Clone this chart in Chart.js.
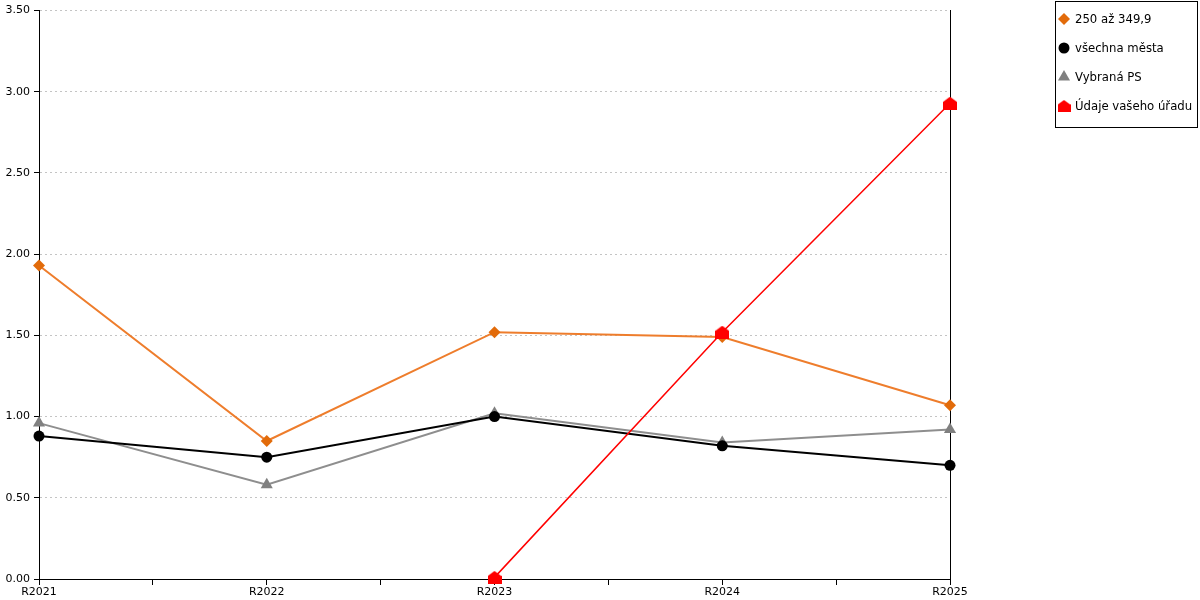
<!DOCTYPE html>
<html>
<head>
<meta charset="utf-8">
<script src="https://cdn.jsdelivr.net/npm/chart.js@4/dist/chart.umd.min.js"></script>
<style>
  html, body { margin: 0; padding: 0; background: #fff; }
  #wrap { width: 1200px; height: 600px; }
</style>
</head>
<body>
<div id="wrap"><canvas id="lineChart" width="1200" height="600"></canvas></div>
<script>
// chart data
const categories = ['R2021', 'R2022', 'R2023', 'R2024', 'R2025'];
const seriesNames = ['250 až 349,9', 'všechna města', 'Vybraná PS', 'Údaje vašeho úřadu'];
const group250 = [1.93, 0.85, 1.52, 1.49, 1.07];
const allCities = [0.88, 0.75, 1.00, 0.82, 0.70];
const selectedPS = [0.96, 0.58, 1.02, 0.84, 0.92];
const yourOffice = [null, null, 0.01, 1.52, 2.93];
const yTicks = [0, 0.5, 1, 1.5, 2, 2.5, 3, 3.5];

// house shaped marker for the office series
const makeHouse = (w, h) => {
    const c = document.createElement('canvas');
    c.width = w; c.height = h;
    const g = c.getContext('2d');
    g.fillStyle = '#ff0000';
    g.beginPath();
    g.moveTo(w / 2, 0);
    g.lineTo(w, h * 0.4);
    g.lineTo(w, h);
    g.lineTo(0, h);
    g.lineTo(0, h * 0.4);
    g.closePath();
    g.fill();
    return c;
};
const houseMarker = makeHouse(14, 13);
const houseLegend = makeHouse(13, 12);

const toPoints = values => values.map((v, i) => ({ x: i, y: v }));

// boxed legend on the right, drawn with the library's point helper
const boxedLegend = {
    id: 'boxedLegend',
    afterDraw(chart) {
        const ctx = chart.ctx;
        const left = 1055, top = 1, width = 142, height = 126, step = 29;
        ctx.save();
        ctx.strokeStyle = '#000';
        ctx.lineWidth = 1;
        ctx.strokeRect(left + 0.5, top + 0.5, width, height);
        ctx.font = '11.7px "DejaVu Sans", Verdana, sans-serif';
        ctx.textBaseline = 'middle';
        chart.data.datasets.forEach((ds, i) => {
            const cy = 19 + i * step;
            ctx.fillStyle = ds.backgroundColor;
            ctx.strokeStyle = ds.backgroundColor;
            const style = ds.pointStyle === houseMarker ? houseLegend : ds.pointStyle;
            Chart.helpers.drawPoint(ctx, {
                pointStyle: style,
                radius: ds.legendRadius,
                rotation: 0,
                borderWidth: 0
            }, 1064, cy);
            ctx.fillStyle = '#000';
            ctx.fillText(ds.label, 1075, cy + 1);
        });
        ctx.restore();
    }
};

Chart.defaults.font.family = '"DejaVu Sans", Verdana, sans-serif';
Chart.defaults.color = '#000';

const ctx = document.getElementById('lineChart').getContext('2d');
new Chart(ctx, {
    type: 'line',
    data: {
        datasets: [{
            label: seriesNames[0],
            data: toPoints(group250),
            borderColor: '#ee7d2c',
            backgroundColor: '#e26b0a',
            borderWidth: 2,
            pointStyle: 'rectRot',
            pointRadius: 6,
            pointBorderWidth: 0,
            legendRadius: 6,
            order: 3
        }, {
            label: seriesNames[1],
            data: toPoints(allCities),
            borderColor: '#000000',
            backgroundColor: '#000000',
            borderWidth: 2,
            pointStyle: 'circle',
            pointRadius: 5.5,
            pointBorderWidth: 0,
            legendRadius: 5.5,
            order: 1
        }, {
            label: seriesNames[2],
            data: toPoints(selectedPS),
            borderColor: '#8e8e8e',
            backgroundColor: '#808080',
            borderWidth: 2,
            pointStyle: 'triangle',
            pointRadius: 7,
            pointBorderWidth: 0,
            legendRadius: 7,
            order: 2
        }, {
            label: seriesNames[3],
            data: toPoints(yourOffice),
            borderColor: '#ff0000',
            backgroundColor: '#ff0000',
            borderWidth: 1.5,
            pointStyle: houseMarker,
            legendRadius: 6,
            order: 0
        }]
    },
    options: {
        responsive: false,
        animation: false,
        devicePixelRatio: 1,
        layout: { padding: { top: 10, right: 249, left: 0, bottom: 0 } },
        elements: { line: { tension: 0 } },
        datasets: { line: { clip: false } },
        plugins: {
            tooltip: { enabled: false },
            legend: { display: false }
        },
        scales: {
            x: {
                type: 'linear',
                min: 0,
                max: categories.length - 1,
                grid: { drawOnChartArea: false, color: '#000', tickLength: 6 },
                border: { color: '#000', width: 1 },
                ticks: {
                    stepSize: 0.5,
                    autoSkip: false,
                    maxRotation: 0,
                    padding: 1,
                    font: { size: 11 },
                    callback: v => Number.isInteger(v) ? categories[v] : ''
                },
                afterFit: s => { s.height = 21; }
            },
            y: {
                min: yTicks[0],
                max: yTicks[yTicks.length - 1],
                grid: {
                    color: '#c4c4c4',
                    tickColor: '#000',
                    tickLength: 5,
                    tickBorderDash: []
                },
                border: { color: '#000', width: 1, dash: [2, 3] },
                ticks: {
                    stepSize: 0.5,
                    padding: 4,
                    font: { size: 11 },
                    callback: v => v.toFixed(2)
                },
                afterFit: s => { s.width = 39; }
            },
            y2: {
                position: 'right',
                min: yTicks[0],
                max: yTicks[yTicks.length - 1],
                grid: { drawOnChartArea: false, drawTicks: false },
                border: { color: '#000', width: 1 },
                ticks: { display: false },
                afterFit: s => { s.width = 1; }
            }
        }
    },
    plugins: [boxedLegend]
});
</script>
</body>
</html>
